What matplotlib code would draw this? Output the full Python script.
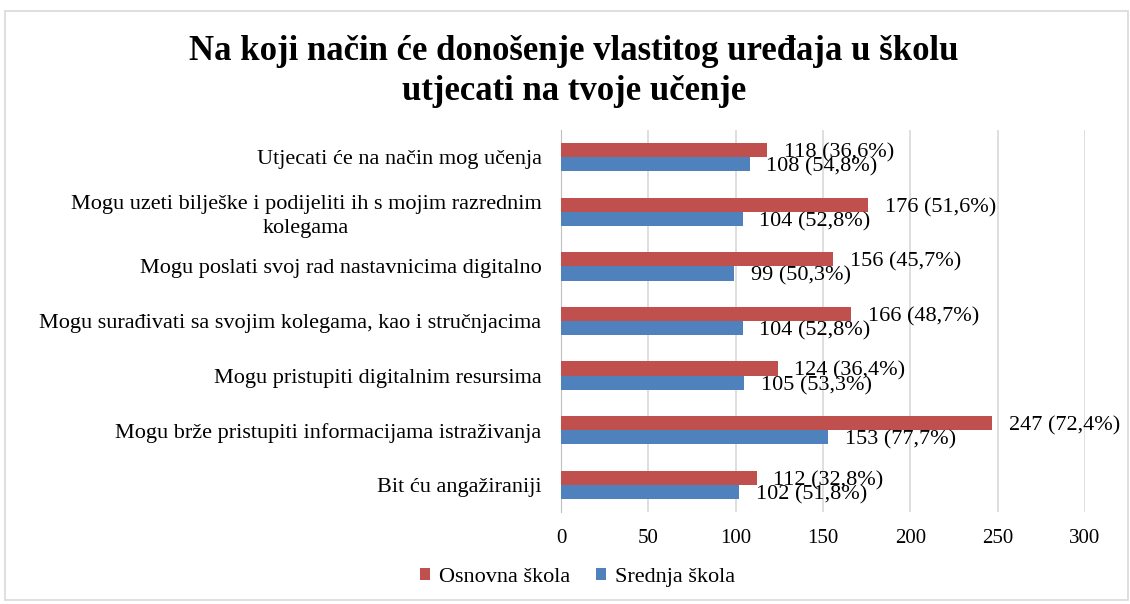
import matplotlib.pyplot as plt
import numpy as np
from matplotlib.patches import Rectangle

plt.rcParams['font.family'] = ['Liberation Serif', 'DejaVu Serif']

categories = [
    "Utjecati će na način mog učenja",
    "Mogu uzeti bilješke i podijeliti ih s mojim razrednim\nkolegama",
    "Mogu poslati svoj rad nastavnicima digitalno",
    "Mogu surađivati sa svojim kolegama, kao i stručnjacima",
    "Mogu pristupiti digitalnim resursima",
    "Mogu brže pristupiti informacijama istraživanja",
    "Bit ću angažiraniji",
]
osnovna = [118, 176, 156, 166, 124, 247, 112]
osnovna_pct = ["36,6%", "51,6%", "45,7%", "48,7%", "36,4%", "72,4%", "32,8%"]
srednja = [108, 104, 99, 104, 105, 153, 102]
srednja_pct = ["54,8%", "52,8%", "50,3%", "52,8%", "53,3%", "77,7%", "51,8%"]
xticks = [0, 50, 100, 150, 200, 250, 300]

red = "#c0504d"
blue = "#4f81bd"

fig = plt.figure(figsize=(11.3, 6.04), dpi=100)
fig.patches.append(Rectangle((0.004, 0.006), 0.994, 0.976, transform=fig.transFigure,
                             fill=False, edgecolor="#d9d9d9", linewidth=1.2))
ax = fig.add_axes([0.4965, 0.152, 0.4635, 0.633])

y = np.arange(len(categories))
h = 0.26
ax.barh(y - h / 2, osnovna, height=h, color=red, label="Osnovna škola", zorder=3)
ax.barh(y + h / 2, srednja, height=h, color=blue, label="Srednja škola", zorder=3)

# labels sit just past the bar end, overlapping a little like the original
for yi, v, p in zip(y, osnovna, osnovna_pct):
    ax.annotate(f"{v} ({p})", (v, yi - h / 2), xytext=(12, -2), textcoords="offset points",
                va="center", ha="left", fontsize=16, zorder=4)
for yi, v, p in zip(y, srednja, srednja_pct):
    ax.annotate(f"{v} ({p})", (v, yi + h / 2), xytext=(12, -2), textcoords="offset points",
                va="center", ha="left", fontsize=16, zorder=4)

ax.set_ylim(len(categories) - 0.5, -0.5)
ax.set_xlim(0, 300)
ax.set_xticks(xticks)
ax.set_xticklabels([str(t) for t in xticks], fontsize=15)
ax.set_yticks(y)
ax.set_yticklabels(categories, fontsize=16, multialignment="center", linespacing=1.35)
ax.tick_params(axis="both", length=0)
ax.tick_params(axis="x", pad=12)
ax.tick_params(axis="y", pad=14)
ax.grid(axis="x", color="#d9d9d9", linewidth=1.2, zorder=0)
for s in ["top", "right", "bottom"]:
    ax.spines[s].set_visible(False)
ax.spines["left"].set_color("#bfbfbf")

fig.text(0.508, 0.882, "Na koji način će donošenje vlastitog uređaja u školu\nutjecati na tvoje učenje",
         ha="center", va="center", fontsize=25, fontweight="bold", linespacing=1.3)

fig.legend(loc="center", bbox_to_anchor=(0.511, 0.044), ncol=2, frameon=False, fontsize=16,
           handlelength=0.45, handleheight=0.45, columnspacing=1.15, handletextpad=0.4)

fig.savefig("out.png", dpi=100)
